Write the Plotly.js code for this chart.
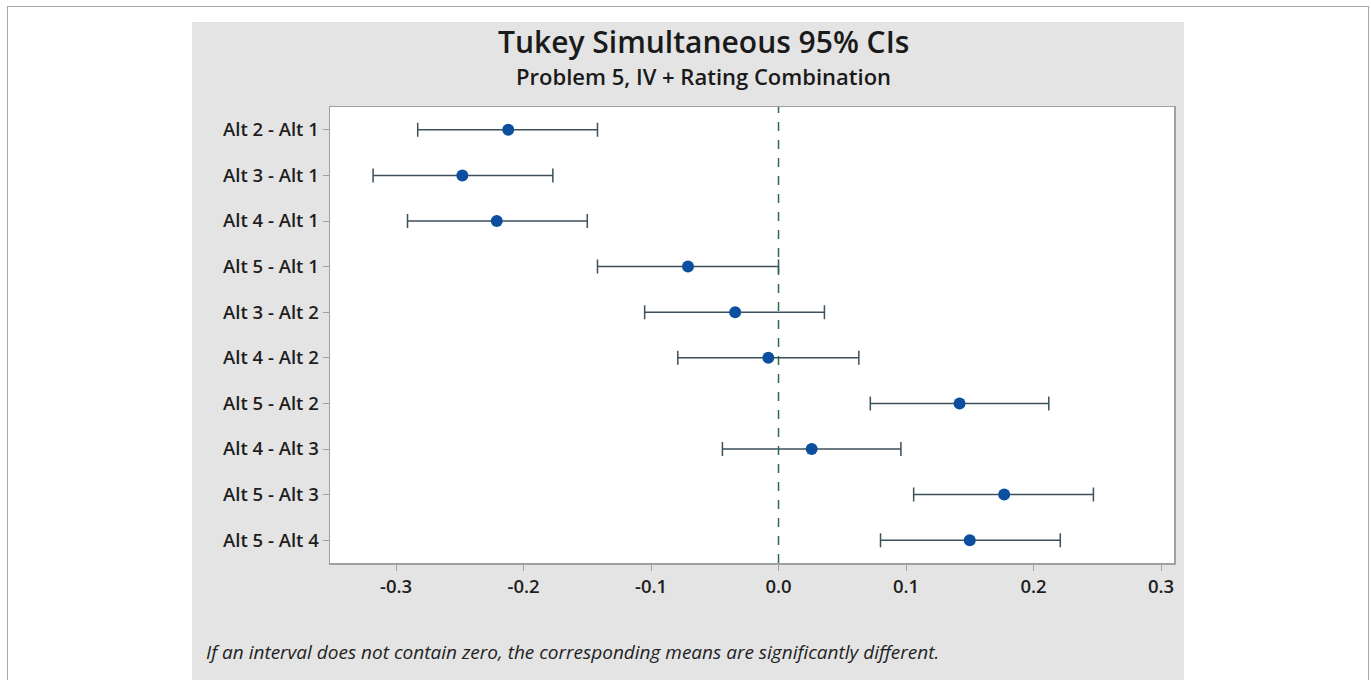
<!DOCTYPE html>
<html>
<head>
<meta charset="utf-8">
<script src="https://cdn.plot.ly/plotly-3.0.1.min.js"></script>
<style>
  html, body { margin: 0; padding: 0; background: #ffffff; width: 1371px; height: 680px; overflow: hidden; }
  #frame { position: absolute; left: 7px; top: 6px; width: 1362px; height: 690px; border: 1px solid #a8a8a8; box-sizing: border-box; }
  #panel { position: absolute; left: 192px; top: 22px; width: 992px; height: 658px; background: #e4e4e4; }
  #chart { position: absolute; left: 192px; top: 0px; width: 992px; height: 680px; }
</style>
</head>
<body>
<div id="frame"></div>
<div id="panel"></div>
<div id="chart"></div>
<script>
const comparisons = ["Alt 2 - Alt 1", "Alt 3 - Alt 1", "Alt 4 - Alt 1", "Alt 5 - Alt 1", "Alt 3 - Alt 2",
                     "Alt 4 - Alt 2", "Alt 5 - Alt 2", "Alt 4 - Alt 3", "Alt 5 - Alt 3", "Alt 5 - Alt 4"];
const estimates = [-0.212, -0.248, -0.221, -0.071, -0.034, -0.008, 0.142, 0.026, 0.177, 0.150];
const lower     = [-0.283, -0.318, -0.291, -0.142, -0.105, -0.079, 0.072, -0.044, 0.106, 0.080];
const upper     = [-0.142, -0.177, -0.150, 0.000, 0.036, 0.063, 0.212, 0.096, 0.247, 0.221];
const xTicks = [-0.3, -0.2, -0.1, 0.0, 0.1, 0.2, 0.3];
const xTickText = ["-0.3", "-0.2", "-0.1", "0.0", "0.1", "0.2", "0.3"];

const plusErr = estimates.map((e, i) => upper[i] - e);
const minusErr = estimates.map((e, i) => e - lower[i]);

const font = "'Open Sans', 'Noto Sans', sans-serif";

const trace = {
  type: "scatter",
  mode: "markers",
  x: estimates,
  y: comparisons,
  marker: { color: "#0b4f9e", size: 12, symbol: "circle" },
  error_x: {
    type: "data", symmetric: false,
    array: plusErr, arrayminus: minusErr,
    color: "#3c505e", thickness: 1.5, width: 7
  },
  hoverinfo: "x+y"
};

const layout = {
  width: 992, height: 680,
  paper_bgcolor: "rgba(0,0,0,0)",
  plot_bgcolor: "#ffffff",
  margin: { l: 138, r: 10, t: 107, b: 117 },
  showlegend: false,
  font: { family: font, color: "#1e1e1e" },
  xaxis: {
    range: [-0.3518, 0.3102],
    tickmode: "array", tickvals: xTicks, ticktext: xTickText,
    ticks: "outside", ticklen: 6, tickcolor: "#a0a0a0", tickwidth: 1,
    showgrid: false, zeroline: false,
    showline: true, linecolor: "#a0a0a0", linewidth: 1.5, mirror: true,
    tickfont: { size: 18.5, family: font, color: "#1e1e1e", weight: 600 }
  },
  yaxis: {
    type: "category",
    categoryorder: "array", categoryarray: comparisons,
    range: [9.5, -0.5],
    ticks: "outside", ticklen: 6, tickcolor: "#a0a0a0", tickwidth: 1,
    showgrid: false, zeroline: false,
    showline: true, linecolor: "#a0a0a0", linewidth: 1.5, mirror: true,
    tickfont: { size: 18.5, family: font, color: "#1e1e1e", weight: 600 }
  },
  shapes: [{
    type: "line", xref: "x", yref: "paper",
    x0: 0, x1: 0, y0: 0, y1: 1,
    line: { color: "#2e6a4c", width: 1.5, dash: "dash" }
  }],
  annotations: [
    { text: "Tukey Simultaneous 95% CIs", xref: "paper", yref: "paper",
      x: 0.442, y: 1, yshift: 66, xanchor: "center", yanchor: "middle", showarrow: false,
      font: { size: 30, family: font, color: "#1a1a1a", weight: 600 } },
    { text: "Problem 5, IV + Rating Combination", xref: "paper", yref: "paper",
      x: 0.442, y: 1, yshift: 31, xanchor: "center", yanchor: "middle", showarrow: false,
      font: { size: 22, family: font, color: "#1a1a1a", weight: 600 } },
    { text: "<i>If an interval does not contain zero, the corresponding means are significantly different.</i>",
      xref: "paper", yref: "paper", x: 0, xshift: -126, y: 0, yshift: -89,
      xanchor: "left", yanchor: "middle", showarrow: false,
      font: { size: 19, family: font, color: "#222222" } }
  ]
};

Plotly.newPlot("chart", [trace], layout, { displayModeBar: false, staticPlot: true });
</script>
</body>
</html>
